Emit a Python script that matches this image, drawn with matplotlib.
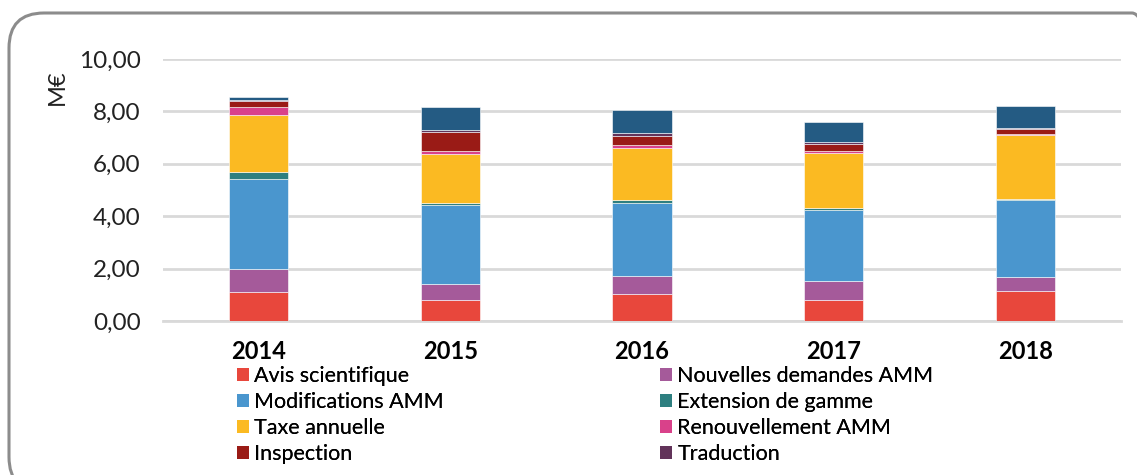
import numpy as np
import matplotlib
matplotlib.use("Agg")
import matplotlib.pyplot as plt
import matplotlib.patches as mpatches
import matplotlib.transforms as mtransforms

plt.rcParams['font.family'] = ['Lato', 'DejaVu Sans']

# données (M€)
annees = ['2014', '2015', '2016', '2017', '2018']
avis_scientifique = [1.10, 0.79, 1.03, 0.79, 1.15]
nouvelles_demandes = [0.88, 0.62, 0.70, 0.73, 0.53]
modifications = [3.45, 3.00, 2.77, 2.72, 2.94]
extension_gamme = [0.24, 0.09, 0.11, 0.09, 0.05]
taxe_annuelle = [2.18, 1.88, 2.01, 2.09, 2.43]
renouvellement = [0.31, 0.10, 0.09, 0.08, 0.05]
inspection = [0.22, 0.75, 0.37, 0.26, 0.17]
traduction = [0.06, 0.05, 0.08, 0.08, 0.04]
autres = [0.10, 0.90, 0.90, 0.76, 0.85]

series = [
    ('Avis scientifique', avis_scientifique, '#E8473C'),
    ('Nouvelles demandes AMM', nouvelles_demandes, '#A55A9A'),
    ('Modifications AMM', modifications, '#4A96CE'),
    ('Extension de gamme', extension_gamme, '#2E7F80'),
    ('Taxe annuelle', taxe_annuelle, '#FBBA22'),
    ('Renouvellement AMM', renouvellement, '#D9418A'),
    ('Inspection', inspection, '#9A1B16'),
    ('Traduction', traduction, '#62335A'),
    ('Autres', autres, '#245B83'),
]

fig = plt.figure(figsize=(11.37, 4.75), dpi=100)
ax = fig.add_axes([163/1137, 1-321/475, (1121-163)/1137, (321-59)/475])

x = np.arange(len(annees))
bas = np.zeros(len(annees))
barres = {}
for nom, vals, coul in series:
    b = ax.bar(x, vals, 0.31, bottom=bas, color=coul, edgecolor='white',
               linewidth=0.4, zorder=3)
    barres[nom] = b
    bas += np.array(vals)

ax.set_xlim(-0.5, 4.5)
ax.set_ylim(0, 10)
ax.set_yticks(np.arange(0, 11, 2))
ax.set_yticklabels([f"{v:.2f}".replace('.', ',') for v in np.arange(0, 11, 2)])
ax.set_xticks(x)
ax.set_xticklabels(annees, fontweight='bold')
ax.tick_params(axis='y', length=0, pad=16, labelsize=17.5, colors='#222222')
ax.tick_params(axis='x', length=0, pad=14, labelsize=17)
ax.grid(axis='y', color='#D9D9D9', linewidth=2, zorder=0)
for s in ['top', 'right', 'left']:
    ax.spines[s].set_visible(False)
ax.spines['bottom'].set_color('#D9D9D9')
ax.spines['bottom'].set_linewidth(2)

fig.text(57/1137, 1-87/475, 'M€', rotation=90, fontsize=17,
         ha='center', va='center', color='#222222')

# legende en deux colonnes
col1 = ['Avis scientifique', 'Modifications AMM', 'Taxe annuelle', 'Inspection']
col2 = ['Nouvelles demandes AMM', 'Extension de gamme', 'Renouvellement AMM', 'Traduction']
for noms, xpos in [(col1, 237), (col2, 660)]:
    leg = fig.legend([barres[n] for n in noms], noms, loc='upper left',
                     bbox_to_anchor=(xpos/1137, 1-366/475), frameon=False,
                     fontsize=15.5, handlelength=0.56, handleheight=0.56,
                     handletextpad=0.25, labelspacing=0.28, borderpad=0,
                     borderaxespad=0)
    for h in leg.legend_handles:
        h.set_edgecolor('none')
    fig.add_artist(leg)

# cadre arrondi
cadre = mpatches.FancyBboxPatch((9, -17), 1158, 479,
                                boxstyle='round,pad=0,rounding_size=35',
                                transform=mtransforms.IdentityTransform(),
                                facecolor='none', edgecolor='#8C8C8C',
                                linewidth=2.2)
fig.patches.append(cadre)

fig.savefig('out.png', dpi=100)
